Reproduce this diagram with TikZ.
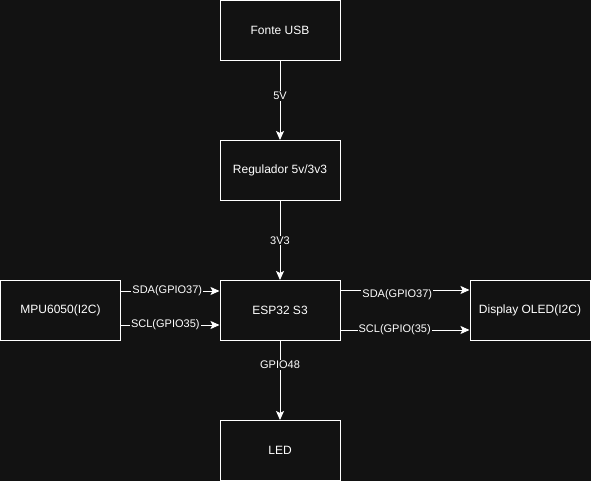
\documentclass[tikz,border=0pt]{standalone}
\usepackage{fontspec}
\setmainfont{Liberation Sans}
\usetikzlibrary{arrows.meta}
\definecolor{fundo}{RGB}{18,18,18}

\begin{document}
\begin{tikzpicture}[x=1pt,y=-1pt,>={Stealth[length=9pt,width=8pt,inset=2pt]},
    bloco/.style={draw=white,fill=fundo,line width=1pt,minimum width=120pt,minimum height=60pt,text=white,font=\fontsize{12}{14}\selectfont},
    rotulo/.style={fill=fundo,text=white,inner sep=1pt,font=\fontsize{11}{13}\selectfont}]
            \fill[fundo] (0,0) rectangle (591,481);
            \useasboundingbox (0,0) rectangle (591,481);
            \node[bloco] (F) at (280,30.5) {Fonte USB};
            \node[bloco] (R) at (280,170.5) {Regulador 5v/3v3};
            \node[bloco] (E) at (280,310.5) {ESP32 S3};
            \node[bloco] (L) at (280,450.5) {LED};
            \node[bloco] (M) at (60.5,310.5) {MPU6050(I2C)};
            \node[bloco] (D) at (530,310.5) {Display OLED(I2C)};
            \draw[->,white,line width=1pt] (F) --node[rotulo,pos=0.44]{5V} (R);
            \draw[->,white,line width=1pt] (R) --node[rotulo,pos=0.5]{3V3} (E);
            \draw[->,white,line width=1pt] (E) --node[rotulo,pos=0.3]{GPIO48} (L);
            \draw[->,white,line width=1pt] (M.east|-0,291) --node[rotulo,pos=0.47]{SDA(GPIO37)} (E.west|-0,291);
            \draw[->,white,line width=1pt] (M.east|-0,325) --node[rotulo,pos=0.45]{SCL(GPIO35)} (E.west|-0,325);
            \draw[->,white,line width=1pt] (E.east|-0,290) --node[rotulo,pos=0.44,yshift=-5pt]{SDA(GPIO37)} (D.west|-0,290);
            \draw[->,white,line width=1pt] (E.east|-0,330) --node[rotulo,pos=0.42]{SCL(GPIO(35)} (D.west|-0,330);
        \end{tikzpicture}
\end{document}
